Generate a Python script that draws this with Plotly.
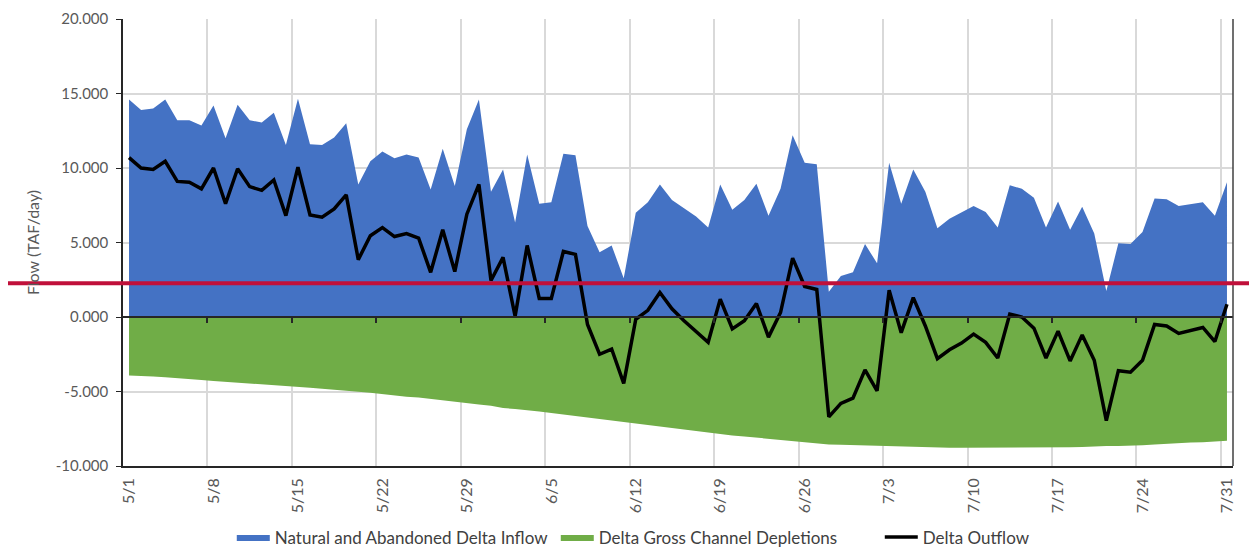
import plotly.graph_objects as go

dates = ["5/%d" % d for d in range(1, 32)] + ["6/%d" % d for d in range(1, 31)] + ["7/%d" % d for d in range(1, 32)]

inflow = [14.6, 13.9, 14.0, 14.6, 13.2, 13.2, 12.85, 14.2, 12.0, 14.25,
          13.2, 13.05, 13.7, 11.55, 14.65, 11.6, 11.55, 12.05, 13.0, 8.9,
          10.45, 11.1, 10.65, 10.9, 10.7, 8.55, 11.3, 8.8, 12.6, 14.6,
          8.4, 9.9, 6.35, 10.9, 7.6, 7.7, 10.95, 10.85, 6.1, 4.35,
          4.8, 2.6, 7.0, 7.7, 8.9, 7.85, 7.3, 6.75, 6.0, 8.9,
          7.2, 7.85, 8.95, 6.8, 8.6, 12.2, 10.35, 10.25, 1.7, 2.75,
          3.0, 4.9, 3.6, 10.35, 7.6, 9.9, 8.4, 5.95, 6.6, 7.0,
          7.45, 7.05, 6.0, 8.85, 8.6, 8.0, 6.0, 7.75, 5.85, 7.4,
          5.6, 1.75, 4.95, 4.9, 5.7, 7.95, 7.9, 7.45, 7.55, 7.7,
          6.8, 9.05]

depletions = [-3.93, -3.95, -4.0, -4.05, -4.1, -4.15, -4.22, -4.3, -4.35, -4.42,
              -4.48, -4.52, -4.56, -4.62, -4.68, -4.74, -4.82, -4.9, -4.96, -5.02,
              -5.08, -5.18, -5.3, -5.36, -5.4, -5.5, -5.6, -5.72, -5.8, -5.88,
              -5.96, -6.1, -6.18, -6.25, -6.35, -6.45, -6.55, -6.68, -6.8, -6.88,
              -6.96, -7.08, -7.15, -7.25, -7.35, -7.48, -7.58, -7.68, -7.8, -7.88,
              -7.95, -8.02, -8.1, -8.2, -8.28, -8.36, -8.42, -8.48, -8.55, -8.58,
              -8.6, -8.62, -8.64, -8.68, -8.72, -8.75, -8.76, -8.77, -8.77, -8.78,
              -8.78, -8.78, -8.78, -8.77, -8.77, -8.76, -8.76, -8.75, -8.74, -8.72,
              -8.68, -8.66, -8.65, -8.64, -8.6, -8.55, -8.5, -8.45, -8.42, -8.4,
              -8.36, -8.3]

outflow = [10.7, 10.0, 9.9, 10.45, 9.1, 9.05, 8.6, 10.0, 7.6, 9.95,
           8.75, 8.5, 9.2, 6.8, 10.05, 6.85, 6.7, 7.25, 8.2, 3.85,
           5.45, 6.0, 5.4, 5.6, 5.3, 3.0, 5.85, 3.05, 6.9, 8.9,
           2.45, 4.0, 0.05, 4.8, 1.25, 1.25, 4.4, 4.2, -0.5, -2.5,
           -2.15, -4.45, -0.15, 0.45, 1.65, 0.55, -0.25, -0.95, -1.7, 1.2,
           -0.8, -0.25, 0.9, -1.35, 0.3, 3.95, 2.05, 1.85, -6.7, -5.8,
           -5.45, -3.55, -4.95, 1.8, -1.05, 1.3, -0.6, -2.8, -2.2, -1.75,
           -1.15, -1.7, -2.75, 0.2, 0.0, -0.75, -2.75, -0.95, -2.95, -1.2,
           -2.9, -6.95, -3.6, -3.7, -2.9, -0.5, -0.6, -1.1, -0.9, -0.7,
           -1.65, 0.85]

threshold = 2.27

y_ticks = [-10, -5, 0, 5, 10, 15, 20]
y_labels = [("%.3f" % v) for v in y_ticks]

idx = list(range(len(dates)))
label_idx = idx[::7]
label_txt = [dates[i] for i in label_idx]
grid_pos = [i + 6.5 for i in range(0, len(dates) - 7, 7)] + [90.5]

FONT = "Lato, Carlito, 'Liberation Sans', sans-serif"
GRAY = "#595959"

fig = go.Figure()
fig.add_trace(go.Scatter(x=idx, y=inflow, name="Natural and Abandoned Delta Inflow",
                         mode="lines", line=dict(width=0, color="#4472C4"),
                         fill="tozeroy", fillcolor="#4472C4"))
fig.add_trace(go.Scatter(x=idx, y=depletions, name="Delta Gross Channel Depletions",
                         mode="lines", line=dict(width=0, color="#70AD47"),
                         fill="tozeroy", fillcolor="#70AD47"))
fig.add_trace(go.Scatter(x=idx, y=outflow, name="Delta Outflow",
                         mode="lines", line=dict(width=3.5, color="black")))
# invisible traces to host helper axes
fig.add_trace(go.Scatter(x=[0], y=[0], xaxis="x2", mode="markers",
                         marker=dict(opacity=0), showlegend=False, hoverinfo="skip"))
fig.add_trace(go.Scatter(x=[0], y=[0], xaxis="x3", mode="markers",
                         marker=dict(opacity=0), showlegend=False, hoverinfo="skip"))

xr = [-0.5, len(dates) - 0.5]
fig.update_layout(
    width=1249, height=543,
    margin=dict(l=115, r=24, t=11, b=85),
    paper_bgcolor="white", plot_bgcolor="white",
    font=dict(family=FONT, size=15, color=GRAY),
    xaxis=dict(range=xr, tickmode="array", tickvals=label_idx, ticktext=label_txt,
               tickangle=-90, showgrid=False, zeroline=False, ticks="",
               showline=True, linecolor="#262626", linewidth=1.5, mirror=False,
               automargin=False, ticklabelstandoff=4, ticklabeloverflow="allow",
               tickfont=dict(size=16, color=GRAY)),
    xaxis2=dict(range=xr, overlaying="x", tickmode="array", tickvals=grid_pos,
                showticklabels=False, showgrid=True, gridcolor="#d9d9d9", gridwidth=1.5,
                zeroline=False, ticks="", layer="below traces", anchor="y"),
    xaxis3=dict(range=xr, overlaying="x", anchor="free", position=1/3,
                tickmode="array", tickvals=grid_pos, showticklabels=False,
                showgrid=False, zeroline=False, ticks="outside", ticklen=5,
                tickcolor="#262626", tickwidth=1.5, showline=True,
                linecolor="#262626", linewidth=1.5),
    yaxis=dict(range=[-10, 20], tickmode="array", tickvals=y_ticks, ticktext=y_labels,
               showgrid=True, gridcolor="#d9d9d9", gridwidth=1.5, zeroline=False,
               showline=True, linecolor="#262626", linewidth=1.5,
               ticks="outside", ticklen=5, tickcolor="#262626",
               automargin=False, ticklabelstandoff=5, ticklabeloverflow="allow",
               title=dict(text="Flow (TAF/day)", standoff=12, font=dict(size=16, color=GRAY)),
               tickfont=dict(size=15, color=GRAY)),
    legend=dict(orientation="h", x=0.098, xanchor="left",
                yref="container", y=0.025, yanchor="middle",
                font=dict(size=17, color="#404040"), itemwidth=33,
                entrywidth=276, entrywidthmode="pixels",
                traceorder="normal"),
    showlegend=True,
)

# right border of plot area
fig.add_shape(type="line", xref="paper", yref="paper", x0=1, x1=1, y0=0, y1=1,
              line=dict(color="#404040", width=1.5))
# red reference line spanning the full figure width
fig.add_shape(type="line", xref="paper", yref="y", x0=-0.106, x1=1.016,
              y0=threshold, y1=threshold, line=dict(color="#C0103A", width=4), layer="above")

fig.write_html("out.html")
